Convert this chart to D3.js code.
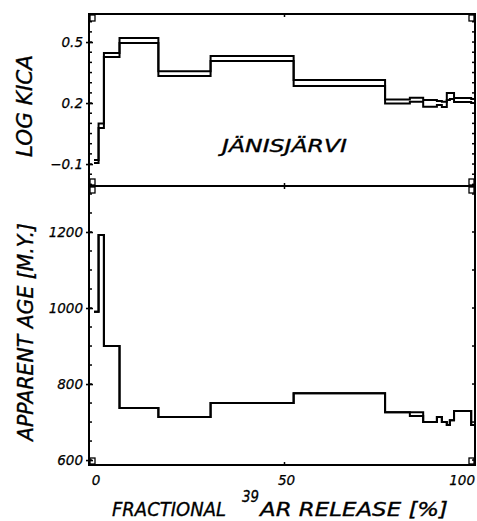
<!DOCTYPE html>
<html>
<head>
<meta charset="utf-8">
<script src="https://cdn.jsdelivr.net/npm/d3@7"></script>
<style>
	html, body { margin: 0; padding: 0; background: #fff; }
	text { font-family: "DejaVu Sans", sans-serif; font-style: italic; fill: #000; }
	text.title { stroke: #000; stroke-width: 0.35; }
</style>
</head>
<body>
<script>
(function() {
	'use strict';

	// DATA //

	// Step edges, fractional 39Ar release [%]:
	var EDGES = [ 0, 1.2, 2.6, 6.7, 16.9, 30.6, 52.4, 76.4, 82.9, 86.4, 90.0, 91.3, 92.6, 93.4, 94.5, 99.0, 100 ];

	// Log K/Ca, upper and lower bound of each step:
	var KCA_HI = [ -0.080, 0.100, 0.446, 0.520, 0.357, 0.431, 0.313, 0.218, 0.226, 0.215, 0.210, 0.206, 0.250, 0.250, 0.225, 0.220 ];
	var KCA_LO = [ -0.095, 0.077, 0.426, 0.495, 0.333, 0.407, 0.284, 0.198, 0.206, 0.182, 0.190, 0.180, 0.215, 0.220, 0.205, 0.200 ];

	// Apparent age [M.Y.], upper and lower bound of each step:
	var AGE_HI = [ 990, 1192, 900, 737, 713, 750, 776, 726, 726, 700, 713, 700, 692, 705, 729, 692 ];
	var AGE_LO = [ 990, 1192, 900, 737, 713, 750, 776, 726, 716, 700, 713, 700, 692, 705, 729, 692 ];

	// Tick labels:
	var X_TICKS = [ 0, 50, 100 ];
	var KCA_TICKS = [ -0.1, 0.2, 0.5 ];
	var AGE_TICKS = [ 600, 800, 1000, 1200 ];


	// VARIABLES //

	var WIDTH = 477,
		HEIGHT = 521,
		LEFT = 89,
		RIGHT = 475,
		TOP = 14,
		MID = 186,
		BOTTOM = 465;

	var svg, x, yK, yA;

	// Create the canvas:
	svg = d3.select( 'body' ).append( 'svg' )
		.attr( 'width', WIDTH )
		.attr( 'height', HEIGHT )
		.attr( 'viewBox', '0 0 ' + WIDTH + ' ' + HEIGHT );

	svg.append( 'rect' )
		.attr( 'width', WIDTH )
		.attr( 'height', HEIGHT )
		.attr( 'fill', '#fff' );

	// Scales:
	x = d3.scaleLinear().domain( [ 0, 100 ] ).range( [ 94, 475 ] );
	yK = d3.scaleLinear().domain( [ -0.208, 0.638 ] ).range( [ MID, TOP ] );
	yA = d3.scaleLinear().domain( [ 587, 1321 ] ).range( [ BOTTOM, MID ] );

	/**
	* FUNCTION: steps( vals )
	*	Returns step points for a list of step values.
	*/
	function steps( vals ) {
		return EDGES.map( function ( e, i ) {
			return [ e, vals[ Math.min( i, vals.length-1 ) ] ];
		});
	}

	/**
	* FUNCTION: panel( y, hi, lo, major, minor, rminor, fmt )
	*	Draws one panel of the figure.
	*/
	function panel( y, hi, lo, major, minor, rminor, fmt ) {
		var g = svg.append( 'g' ),
			y0 = y.range()[ 0 ],
			y1 = y.range()[ 1 ],
			line;

		// Frame:
		g.append( 'rect' )
			.attr( 'x', LEFT )
			.attr( 'y', y1 )
			.attr( 'width', RIGHT - LEFT )
			.attr( 'height', y0 - y1 )
			.attr( 'fill', 'none' )
			.attr( 'stroke', '#000' )
			.attr( 'stroke-width', 2 );

		// Corner marks:
		[ [ LEFT + 1, y1 + 1 ], [ LEFT + 1, y0 - 7 ], [ RIGHT - 6, y1 + 1 ], [ RIGHT - 6, y0 - 7 ] ].forEach( function ( c ) {
			g.append( 'rect' )
				.attr( 'x', c[ 0 ] )
				.attr( 'y', c[ 1 ] )
				.attr( 'width', 5 )
				.attr( 'height', 6 )
				.attr( 'fill', 'none' )
				.attr( 'stroke', '#000' )
				.attr( 'stroke-width', 1.3 );
		});

		// Minor ticks, left and right:
		g.selectAll( 'minorL' )
			.data( minor )
		  .enter().append( 'line' )
			.attr( 'x1', LEFT )
			.attr( 'x2', LEFT + 3 )
			.attr( 'y1', function ( d ) { return y( d ); } )
			.attr( 'y2', function ( d ) { return y( d ); } )
			.attr( 'stroke', '#000' )
			.attr( 'stroke-width', 1.5 );

		g.selectAll( 'minorR' )
			.data( rminor )
		  .enter().append( 'line' )
			.attr( 'x1', RIGHT - 3 )
			.attr( 'x2', RIGHT )
			.attr( 'y1', function ( d ) { return y( d ); } )
			.attr( 'y2', function ( d ) { return y( d ); } )
			.attr( 'stroke', '#000' )
			.attr( 'stroke-width', 1.5 );

		// Major ticks and labels:
		g.append( 'g' )
			.attr( 'transform', 'translate(' + LEFT + ',0)' )
			.call( d3.axisLeft( y ).tickValues( major ).tickSize( 3 ).tickPadding( 3 ).tickFormat( fmt ) )
			.call( function ( a ) {
				a.select( '.domain' ).remove();
				a.selectAll( 'line' ).attr( 'x2', 4 ).attr( 'x1', -3 ).attr( 'stroke-width', 1.6 );
				a.selectAll( 'text' )
					.attr( 'font-size', 13.5 )
					.attr( 'font-family', '"DejaVu Sans", sans-serif' )
					.attr( 'font-style', 'italic' )
					.attr( 'fill', '#000' )
					.attr( 'stroke', '#000' )
					.attr( 'stroke-width', 0.25 );
			});

		// Top/bottom tick at 50 %:
		[ [ y1, 3 ], [ y0, -3 ] ].forEach( function ( t ) {
			g.append( 'line' )
				.attr( 'x1', x( 50 ) )
				.attr( 'x2', x( 50 ) )
				.attr( 'y1', t[ 0 ] )
				.attr( 'y2', t[ 0 ] + t[ 1 ] )
				.attr( 'stroke', '#000' )
				.attr( 'stroke-width', 1.5 );
		});

		// Step lines:
		line = d3.line()
			.x( function ( d ) { return x( d[ 0 ] ); } )
			.y( function ( d ) { return y( d[ 1 ] ); } )
			.curve( d3.curveStepAfter );

		[ hi, lo ].forEach( function ( vals ) {
			g.append( 'path' )
				.datum( steps( vals ) )
				.attr( 'd', line )
				.attr( 'fill', 'none' )
				.attr( 'stroke', '#000' )
				.attr( 'stroke-width', 2 );
		});
		return g;
	}

	// Upper panel (log K/Ca):
	panel( yK, KCA_HI, KCA_LO, KCA_TICKS, d3.range( -0.2, 0.64, 0.05 ), d3.range( -0.2, 0.64, 0.05 ), d3.format( '.1f' ) );

	// Lower panel (apparent age):
	panel( yA, AGE_HI, AGE_LO, AGE_TICKS, d3.range( 600, 1321, 50 ), d3.range( 600, 1321, 100 ), d3.format( 'd' ) );

	// Sample name:
	svg.append( 'text' )
		.attr( 'class', 'title' )
		.attr( 'x', 222 )
		.attr( 'y', 152 )
		.attr( 'font-size', 17 )
		.attr( 'textLength', 125 )
		.attr( 'lengthAdjust', 'spacingAndGlyphs' )
		.text( 'JÄNISJÄRVI' );

	// X tick labels (the last one kept inside the page):
	svg.selectAll( 'xlab' )
		.data( X_TICKS )
	  .enter().append( 'text' )
		.attr( 'x', function ( d ) { return d === 100 ? WIDTH - 2 : x( d ) + 2; } )
		.attr( 'y', 485 )
		.attr( 'font-size', 13.5 )
		.attr( 'stroke', '#000' )
		.attr( 'stroke-width', 0.25 )
		.attr( 'text-anchor', function ( d ) { return d === 100 ? 'end' : 'middle'; } )
		.text( function ( d ) { return d; } );

	// Axis titles:
	svg.append( 'text' )
		.attr( 'class', 'title' )
		.attr( 'transform', 'translate(32,106) rotate(-90)' )
		.attr( 'font-size', 22 )
		.attr( 'text-anchor', 'middle' )
		.attr( 'textLength', 102 )
		.attr( 'lengthAdjust', 'spacingAndGlyphs' )
		.text( 'LOG KICA' );

	svg.append( 'text' )
		.attr( 'class', 'title' )
		.attr( 'transform', 'translate(33,332) rotate(-90)' )
		.attr( 'font-size', 22 )
		.attr( 'text-anchor', 'middle' )
		.attr( 'textLength', 218 )
		.attr( 'lengthAdjust', 'spacingAndGlyphs' )
		.text( 'APPARENT AGE [M.Y.]' );

	svg.append( 'text' )
		.attr( 'class', 'title' )
		.attr( 'x', 112 )
		.attr( 'y', 516 )
		.attr( 'font-size', 20 )
		.attr( 'textLength', 114 )
		.attr( 'lengthAdjust', 'spacingAndGlyphs' )
		.text( 'FRACTIONAL' );

	svg.append( 'text' )
		.attr( 'class', 'title' )
		.attr( 'x', 242 )
		.attr( 'y', 502 )
		.attr( 'font-size', 15 )
		.attr( 'textLength', 17 )
		.attr( 'lengthAdjust', 'spacingAndGlyphs' )
		.text( '39' );

	svg.append( 'text' )
		.attr( 'class', 'title' )
		.attr( 'x', 260 )
		.attr( 'y', 516 )
		.attr( 'font-size', 20 )
		.attr( 'textLength', 188 )
		.attr( 'lengthAdjust', 'spacingAndGlyphs' )
		.text( 'AR RELEASE [%]' );

})();
</script>
</body>
</html>
